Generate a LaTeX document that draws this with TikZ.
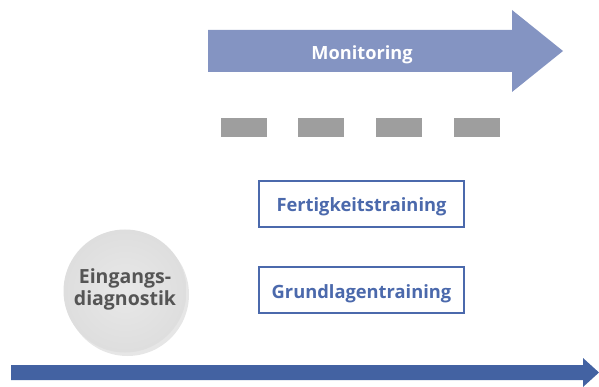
\documentclass[tikz,border=0pt]{standalone}
\usepackage{fontspec}
\setmainfont{Open Sans}
\usetikzlibrary{shadows,shadings}
\definecolor{monblue}{HTML}{8494C2}
\definecolor{darkblue}{HTML}{4362A2}
\definecolor{boxblue}{HTML}{4B69AC}
\definecolor{dashgrey}{HTML}{9E9E9E}
\definecolor{circtext}{HTML}{555555}
\tikzset{
  trainbox/.style={draw=boxblue, line width=1.3pt, fill=white, minimum width=205pt, minimum height=46pt, inner sep=0pt},
  traintext/.style={anchor=base, inner sep=0pt, text=boxblue, font=\fontsize{18.3}{22}\selectfont\bfseries},
  circtxt/.style={anchor=base, inner sep=0pt, text=circtext, font=\fontsize{19.5}{23}\selectfont\bfseries},
}
\begin{document}
\begin{tikzpicture}[x=1pt,y=-1pt]
\useasboundingbox (0,0) rectangle (599,387);
% top arrow
\fill[monblue] (208,30) -- (512,30) -- (512,10) -- (563,51) -- (512,92) -- (512,72) -- (208,72) -- cycle;
\node[anchor=base, inner sep=0pt, text=white, font=\fontsize{18.2}{22}\selectfont\bfseries] (mon) at (362,59.5) {Monitoring};
% dashes
\fill[dashgrey] (221,118) rectangle (267,137);
\fill[dashgrey] (298,118) rectangle (344,137);
\fill[dashgrey] (376,118) rectangle (422,137);
\fill[dashgrey] (454,118) rectangle (500,137);
% boxes
\node[trainbox] (fert) at (361.5,204) {};
\node[traintext] (ferttext) at (361.5,211.5) {Fertigkeitstraining};
\node[trainbox] (grund) at (361.5,290) {};
\node[traintext] (grundtext) at (361.5,298) {Grundlagentraining};
% circle
\node[circle, minimum size=123pt, inner sep=0pt, inner color=white!91!black, outer color=white!87!black,
  drop shadow={shadow xshift=2.5pt, shadow yshift=-3.5pt, opacity=0.22, fill=black!45}] (diag) at (125,291) {};
\node[anchor=base, inner sep=0pt, text=circtext, font=\fontsize{19.5}{23}\selectfont\bfseries] (diag1) at (125,283) {Eingangs-};
\node[anchor=base, inner sep=0pt, text=circtext, font=\fontsize{19.5}{23}\selectfont\bfseries] (diag2) at (125,305.5) {diagnostik};
% bottom arrow
\fill[darkblue] (11,365) -- (583,365) -- (583,358) -- (599,372.5) -- (583,387) -- (583,380) -- (11,380) -- cycle;
\end{tikzpicture}
\end{document}
